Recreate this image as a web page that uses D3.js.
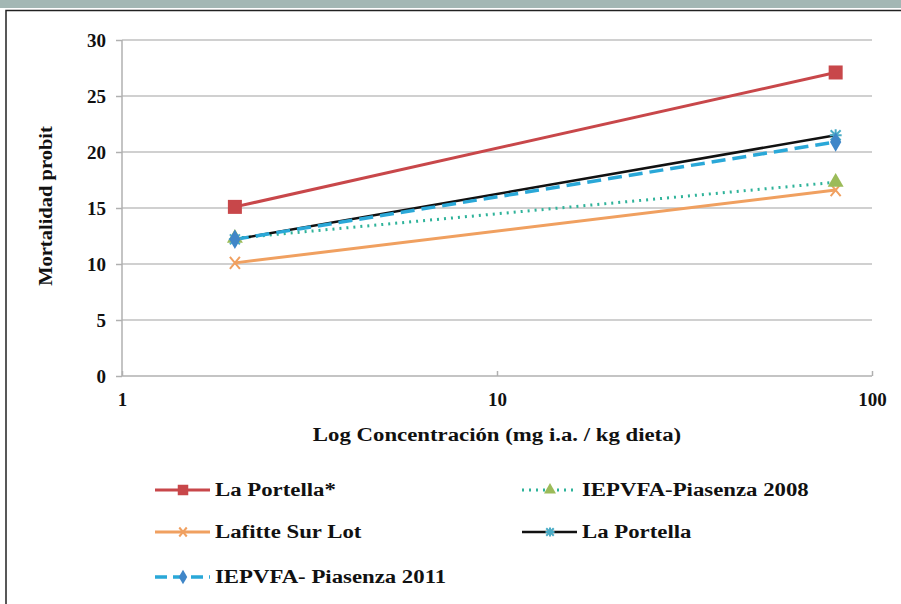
<!DOCTYPE html>
<html><head><meta charset="utf-8">
<script src="https://cdn.jsdelivr.net/npm/d3@7"></script>
<style>body{margin:0;background:#fff;} svg{display:block;} text{font-family:"Liberation Serif","DejaVu Serif",serif;font-weight:bold;}</style>
</head><body>
<svg id="c" width="901" height="604"></svg>
<script>
const concentrations = [2, 80];
const seriesNames = ["La Portella*", "IEPVFA-Piasenza 2008", "Lafitte Sur Lot", "La Portella", "IEPVFA- Piasenza 2011"];
const portellaStar = [15.1, 27.1];
const piasenza2008 = [12.3, 17.3];
const lafitte = [10.1, 16.6];
const portella = [12.2, 21.5];
const piasenza2011 = [12.2, 20.9];
const yTicks = [0, 5, 10, 15, 20, 25, 30];
const xTicks = [1, 10, 100];

const series = [
  {name: seriesNames[0], values: portellaStar, color: "#c8474a", dash: null, width: 3, marker: "square"},
  {name: seriesNames[1], values: piasenza2008, color: "#2fb39a", dash: "2,5", width: 3, marker: "triangle", mcolor: "#9bbb59"},
  {name: seriesNames[2], values: lafitte, color: "#f0a060", dash: null, width: 3, marker: "x"},
  {name: seriesNames[3], values: portella, color: "#111", dash: null, width: 2.5, marker: "star", mcolor: "#4bacc6"},
  {name: seriesNames[4], values: piasenza2011, color: "#2aa8d8", dash: "14,7", width: 3.5, marker: "diamond", mcolor: "#3f86c8"}
];
const drawOrder = [2, 1, 3, 4, 0];

const svg = d3.select("#c");
svg.append("rect").attr("x", 0).attr("y", 0).attr("width", 901).attr("height", 8).attr("fill", "#a3b7b4");
svg.append("path").attr("d", "M6,604 V10.5 H901").attr("fill", "none").attr("stroke", "#222").attr("stroke-width", 1.5);

const x = d3.scaleLog().domain([1, 100]).range([122, 872]);
const y = d3.scaleLinear().domain([0, 30]).range([376, 40]);
const FS = 19;
const STRETCH = 1.2;

svg.append("g").selectAll("line").data(yTicks.filter(d => d > 0)).join("line")
  .attr("x1", 122).attr("x2", 872).attr("y1", d => y(d)).attr("y2", d => y(d))
  .attr("stroke", "#c0c0c0").attr("stroke-width", 1.5);

const yAxis = svg.append("g").attr("transform", "translate(122,0)")
  .call(d3.axisLeft(y).tickValues(yTicks).tickSize(6).tickPadding(10));
const xAxis = svg.append("g").attr("transform", "translate(0,376)")
  .call(d3.axisBottom(x).tickValues(xTicks).tickFormat(d3.format("d")).tickSize(5).tickPadding(12));
[yAxis, xAxis].forEach(a => {
  a.selectAll("path, line").attr("stroke", "#b0b0b0").attr("stroke-width", 1.5);
  a.selectAll("text").attr("font-family", null).attr("font-size", FS).attr("fill", "#111");
});
yAxis.select(".domain").attr("d", "M0,376V40");
xAxis.select(".domain").attr("d", "M122,0H872");
xAxis.selectAll(".tick line").attr("y2", -5);

svg.append("text").attr("transform", `translate(497,441) scale(${STRETCH},1)`).attr("text-anchor", "middle")
  .attr("font-size", FS).attr("fill", "#111")
  .text("Log Concentración (mg i.a. / kg dieta)");
svg.append("text").attr("transform", "translate(52,206) rotate(-90) scale(1.08,1)").attr("text-anchor", "middle")
  .attr("font-size", FS).attr("fill", "#111")
  .text("Mortalidad probit");

function drawMarker(g, s, cx, cy, scale) {
  const c = s.mcolor || s.color;
  const k = scale || 1;
  if (s.marker === "square") {
    g.append("rect").attr("x", cx - 7*k).attr("y", cy - 7*k).attr("width", 14*k).attr("height", 14*k).attr("fill", c);
  } else if (s.marker === "triangle") {
    g.append("path").attr("d", d3.symbol(d3.symbolTriangle, 110*k*k)()).attr("transform", `translate(${cx},${cy})`).attr("fill", c);
  } else if (s.marker === "x") {
    g.append("path").attr("d", `M${cx-5*k},${cy-6*k}L${cx+5*k},${cy+6*k}M${cx+5*k},${cy-6*k}L${cx-5*k},${cy+6*k}`)
      .attr("stroke", c).attr("stroke-width", 2);
  } else if (s.marker === "star") {
    g.append("path").attr("d", `M${cx-6*k},${cy}H${cx+6*k}M${cx},${cy-6*k}V${cy+6*k}M${cx-5*k},${cy-5*k}L${cx+5*k},${cy+5*k}M${cx+5*k},${cy-5*k}L${cx-5*k},${cy+5*k}`)
      .attr("stroke", c).attr("stroke-width", 2);
  } else if (s.marker === "diamond") {
    g.append("path").attr("d", d3.symbol(d3.symbolDiamond, 110*k*k)()).attr("transform", `translate(${cx},${cy})`).attr("fill", c);
  }
}

const line = d3.line().x((d, i) => x(concentrations[i])).y(d => y(d));
const plot = svg.append("g");
drawOrder.forEach(i => {
  const s = series[i];
  plot.append("path").datum(s.values).attr("d", line).attr("fill", "none")
    .attr("stroke", s.color).attr("stroke-width", s.width).attr("stroke-dasharray", s.dash);
});
drawOrder.forEach(i => {
  const s = series[i];
  s.values.forEach((v, j) => drawMarker(plot, s, x(concentrations[j]), y(v)));
});

const legendPos = [
  {x: 155, y: 490}, {x: 522, y: 490},
  {x: 155, y: 532}, {x: 522, y: 532},
  {x: 155, y: 577}
];
series.forEach((s, i) => {
  const p = legendPos[i];
  const g = svg.append("g");
  g.append("line").attr("x1", p.x).attr("x2", p.x + 55).attr("y1", p.y).attr("y2", p.y)
    .attr("stroke", s.color).attr("stroke-width", s.width)
    .attr("stroke-dasharray", s.dash ? (s.marker === "diamond" ? "12,6" : "2,5") : null);
  drawMarker(g, s, p.x + 28, p.y, 0.75);
  g.append("text").attr("transform", `translate(${p.x + 60},${p.y + 6}) scale(${STRETCH},1)`)
    .attr("font-size", FS).attr("fill", "#111")
    .text(s.name);
});
</script>
</body></html>
